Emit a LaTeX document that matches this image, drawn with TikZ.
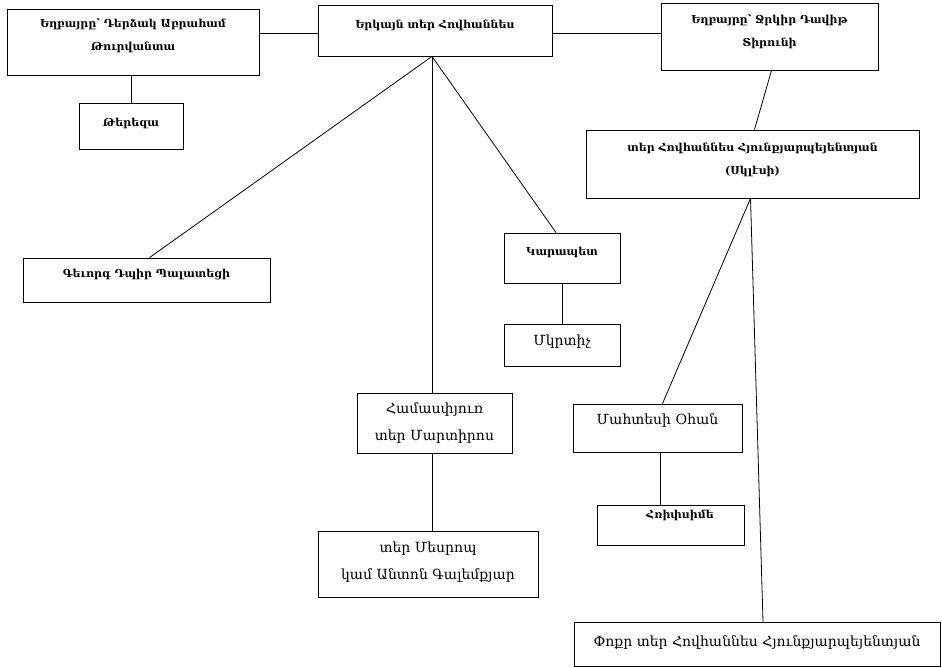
\documentclass[tikz,border=0pt]{standalone}
\usepackage{fontspec}
\setmainfont{DejaVu Serif}
\newfontfamily\oldarm{DejaVu Serif}
\usetikzlibrary{calc}

\tikzset{
  box/.style={draw, thick, rectangle, inner sep=0pt},
  oldtxt/.style={font=\oldarm\bfseries\fontsize{11}{23}\selectfont, align=center, inner sep=0pt},
  newtxt/.style={font=\fontsize{14}{27}\selectfont, align=center, inner sep=0pt},
  link/.style={thick}
}

\begin{document}
\begin{tikzpicture}[x=1pt, y=-1pt]
		%%%%% START %%%%%
		\useasboundingbox (0,0) rectangle (942,668);
		
		% top row
		\node[box, minimum width=252, minimum height=66] (derdzak) at (133,42) {};
		\node[oldtxt] (derdzak-t) at (133,36) {Եղբայրը՝ Դերձակ Աբրահամ\\Թուրվանտա};
		\node[box, minimum width=104, minimum height=46] (tereza) at (131,126) {};
		\node[oldtxt] (tereza-t) at (131,123) {Թերեզա};
		
		\node[box, minimum width=234, minimum height=51] (erkayn) at (435,30.5) {};
		\node[oldtxt] (erkayn-t) at (435,25) {Երկայն տեր Հովհաննես};
		\coordinate (erkayn-foot) at ([xshift=-3]erkayn.south);
		
		\node[box, minimum width=217, minimum height=67] (jrkir) at (769.5,36.5) {};
		\node[oldtxt] (jrkir-t) at (769.5,31.5) {Եղբայրը՝ Ջրկիր Դավիթ\\Տիրունի};
		
		% children of the middle brother
		\node[box, minimum width=247, minimum height=44] (gevorg) at (146.5,280) {};
		\node[oldtxt] (gevorg-t) at (146.5,275) {Գեւորգ Դպիր Պալատեցի};
		
		\node[box, minimum width=116, minimum height=50] (karapet) at (562,258) {};
		\node[oldtxt] (karapet-t) at (562,252) {Կարապետ};
		\node[box, minimum width=116, minimum height=42] (mkrtich) at (562,345) {};
		\node[newtxt] (mkrtich-t) at (562,342) {Մկրտիչ};
		
		\node[box, minimum width=155, minimum height=60] (hamasp) at (434.5,423) {};
		\node[newtxt] (hamasp-t) at (434.5,423.5) {Համասփյուռ\\տեր Մարտիրոս};
		\node[box, minimum width=220, minimum height=66] (mesrop) at (428,564) {};
		\node[newtxt] (mesrop-t) at (428,562.5) {տեր Մեսրոպ\\կամ Անտոն Գալեմքյար};
		
		% right branch
		\node[box, minimum width=333, minimum height=68] (hyunk) at (752.5,164) {};
		\node[oldtxt] (hyunk-t) at (752.5,159.5) {տեր Հովհաննես Հյունքյարպեյենտյան\\(Սկլէսի)};
		
		\node[box, minimum width=169, minimum height=48] (mahtesi) at (657.5,428) {};
		\node[newtxt] (mahtesi-t) at (657.5,421) {Մահտեսի Օհան};
		\node[box, minimum width=147, minimum height=40] (hripsime) at (670.5,525) {};
		\node[oldtxt] (hripsime-t) at (680,515) {Հռիփսիմե};
		
		\node[box, minimum width=366, minimum height=44] (pokr) at (757,644) {};
		\node[newtxt] (pokr-t) at (757,643) {Փոքր տեր Հովհաննես Հյունքյարպեյենտյան};
		
		% connectors
		\draw[link] (derdzak.east |- 0,33) -- (erkayn.west |- 0,33);
		\draw[link] (erkayn.east |- 0,33) -- (jrkir.west |- 0,33);
		\draw[link] (tereza.north) -- (tereza.north |- derdzak.south);
		\draw[link] ([xshift=2]jrkir.south) -- ([xshift=2]hyunk.north);
		
		\draw[link] (erkayn-foot) -- ([xshift=3]gevorg.north);
		\draw[link] (erkayn-foot) -- ([xshift=-6]karapet.north);
		\draw[link] (erkayn-foot) -- (erkayn-foot |- hamasp.north);
		\draw[link] (karapet.south) -- (mkrtich.north);
		\draw[link] ([xshift=4]mesrop.north) -- ([xshift=4]mesrop.north |- hamasp.south);
		
		\draw[link] ([xshift=-2]hyunk.south) -- ([xshift=5]mahtesi.north);
		\draw[link] ([xshift=-2]hyunk.south) -- ([xshift=6]pokr.north);
		\draw[link] ([xshift=3]mahtesi.south) -- ([xshift=3]mahtesi.south |- hripsime.north);
		%%%%% END %%%%%
\end{tikzpicture}
\end{document}
